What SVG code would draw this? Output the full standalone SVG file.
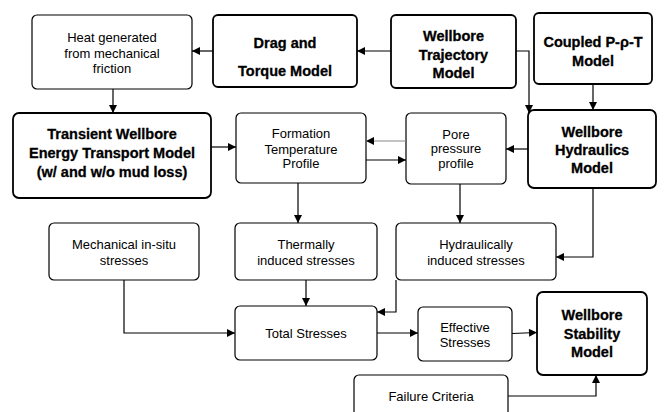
<svg xmlns="http://www.w3.org/2000/svg" width="664" height="412" viewBox="0 0 664 412">
<style>
.box{fill:#fff;stroke:#000;stroke-width:1.2}
.mbox{fill:#fff;stroke:#000;stroke-width:1.8}
.t{font-family:"Liberation Sans",Arial,sans-serif;font-size:13px;text-anchor:middle;fill:#000}
.b{font-family:"Liberation Sans",Arial,sans-serif;font-size:14.5px;font-weight:bold;text-anchor:middle;fill:#000;stroke:#000;stroke-width:0.3}
.c{fill:none;stroke:#000;stroke-width:1.2}
.g{fill:none;stroke:#888;stroke-width:1.2}
</style>
<defs>
<marker id="a" viewBox="0 0 10 10" refX="10" refY="5" markerWidth="9" markerHeight="8" markerUnits="userSpaceOnUse" orient="auto"><path d="M0,0L10,5L0,10Z" fill="#000"/></marker>
</defs>
<rect width="664" height="412" fill="#fff"/>
<g id="heat"><rect class="box" x="32" y="15" width="160" height="74" rx="5"/><text class="t" x="112" y="41.5">Heat generated</text><text class="t" x="112" y="57.5">from mechanical</text><text class="t" x="112" y="72.5">friction</text></g>
<g id="drag"><rect class="mbox" x="213" y="15" width="144" height="72" rx="5"/><text class="b" x="285" y="48">Drag and</text><text class="b" x="285" y="76">Torque Model</text></g>
<g id="trajectory"><rect class="mbox" x="391" y="15" width="125" height="73" rx="5"/><text class="b" x="453.5" y="41">Wellbore</text><text class="b" x="453.5" y="60">Trajectory</text><text class="b" x="453.5" y="78">Model</text></g>
<g id="coupled"><rect class="mbox" x="534" y="13" width="118" height="71" rx="5"/><text class="b" x="593" y="47">Coupled P-ρ-T</text><text class="b" x="593" y="66">Model</text></g>
<g id="transient"><rect class="mbox" x="13" y="113" width="198" height="85" rx="6"/><text class="b" x="112" y="139">Transient Wellbore</text><text class="b" x="112" y="158">Energy Transport Model</text><text class="b" x="112" y="177">(w/ and w/o mud loss)</text></g>
<g id="formation"><rect class="box" x="236" y="113" width="130" height="70" rx="5"/><text class="t" x="301" y="137.5">Formation</text><text class="t" x="301" y="153.5">Temperature</text><text class="t" x="301" y="167.5">Profile</text></g>
<g id="pore"><rect class="box" x="406" y="113" width="100" height="71" rx="5"/><text class="t" x="456" y="138.5">Pore</text><text class="t" x="456" y="153">pressure</text><text class="t" x="456" y="167.5">profile</text></g>
<g id="hydraulics"><rect class="mbox" x="528" y="110" width="128" height="78" rx="6"/><text class="b" x="592" y="137">Wellbore</text><text class="b" x="592" y="155">Hydraulics</text><text class="b" x="592" y="173">Model</text></g>
<g id="mechanical"><rect class="box" x="49" y="223" width="150" height="57" rx="5"/><text class="t" x="124" y="248.5">Mechanical in-situ</text><text class="t" x="124" y="264.5">stresses</text></g>
<g id="thermally"><rect class="box" x="235" y="223" width="142" height="57" rx="5"/><text class="t" x="306" y="248.5">Thermally</text><text class="t" x="306" y="264.5">induced stresses</text></g>
<g id="hydraulically"><rect class="box" x="396" y="223" width="160" height="57" rx="5"/><text class="t" x="476" y="248.5">Hydraulically</text><text class="t" x="476" y="264.5">induced stresses</text></g>
<g id="total"><rect class="box" x="235" y="306" width="142" height="54" rx="5"/><text class="t" x="306" y="337.5">Total Stresses</text></g>
<g id="effective"><rect class="box" x="418" y="307" width="94" height="54" rx="5"/><text class="t" x="465" y="331.5">Effective</text><text class="t" x="465" y="346.5">Stresses</text></g>
<g id="stability"><rect class="mbox" x="537" y="292" width="110" height="83" rx="6"/><text class="b" x="592" y="320">Wellbore</text><text class="b" x="592" y="339">Stability</text><text class="b" x="592" y="357">Model</text></g>
<g id="failure"><rect class="box" x="354" y="375" width="154" height="50" rx="5"/><text class="t" x="431" y="400.5">Failure Criteria</text></g>
<g id="connectors">
<path class="c" d="M213,51H192" marker-end="url(#a)"/>
<path class="c" d="M391,51H357" marker-end="url(#a)"/>
<path class="c" d="M516,51H529V113" marker-end="url(#a)"/>
<path class="c" d="M593,84V110" marker-end="url(#a)"/>
<path class="c" d="M113,89V113" marker-end="url(#a)"/>
<path class="c" d="M211,147H236" marker-end="url(#a)"/>
<path class="c" d="M528,149H506" marker-end="url(#a)"/>
<path class="g" d="M406,141H366" marker-end="url(#a)"/>
<path class="c" d="M366,160H406" marker-end="url(#a)"/>
<path class="c" d="M298,183V223" marker-end="url(#a)"/>
<path class="c" d="M460,184V223" marker-end="url(#a)"/>
<path class="c" d="M593,188V257H556" marker-end="url(#a)"/>
<path class="c" d="M124,280V333H235" marker-end="url(#a)"/>
<path class="c" d="M306,280V306" marker-end="url(#a)"/>
<path class="c" d="M396,280V312H377" marker-end="url(#a)"/>
<path class="c" d="M377,333H418" marker-end="url(#a)"/>
<path class="c" d="M512,333.5L537,332.5" marker-end="url(#a)"/>
<path class="c" d="M508,396H596V375" marker-end="url(#a)"/>
</g>
</svg>
